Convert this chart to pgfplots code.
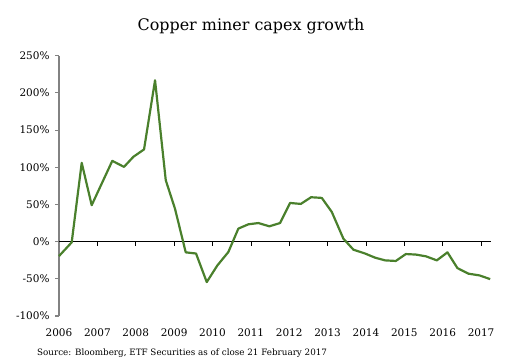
\documentclass[border=0pt]{standalone}
\usepackage{fontspec}
\setmainfont{DejaVu Serif}
\usepackage{pgfplots}
\pgfplotsset{compat=1.18}
\definecolor{linegreen}{RGB}{74,128,44}
\definecolor{axgray}{RGB}{130,130,130}
\begin{document}
\begin{tikzpicture}
\useasboundingbox (-59bp,-48bp) rectangle (448bp,316bp);
\begin{axis}[
  at={(0,0)}, anchor=south west,
  scale only axis,
  width=431.7bp, height=260.3bp,
  xmin=2006, xmax=2017.25,
  ymin=-100, ymax=250,
  axis y line*=left,
  axis x line*=bottom,
  x axis line style={draw=none},
  y axis line style={axgray, line width=1.1pt},
  xtick={2006,2007,...,2017},
  xticklabels={2006,2007,2008,2009,2010,2011,2012,2013,2014,2015,2016,2017},
  xtick style={draw=none},
  xticklabel style={yshift=-5bp, font=\fontsize{10.5}{12}\selectfont},
  ytick={-100,-50,0,50,100,150,200,250},
  yticklabels={-100\%,-50\%,0\%,50\%,100\%,150\%,200\%,250\%},
  yticklabel style={font=\fontsize{10.5}{12}\selectfont, xshift=-2bp},
  ytick style={axgray, line width=1.1pt},
  tick align=outside,
  major tick length=4bp,
  clip=false,
]
% zero line with year ticks
\addplot[black, line width=0.7pt, no marks] coordinates {(2006,0) (2017.25,0)};
\addplot[black, line width=0.7pt, ycomb, no marks] coordinates {
 (2007,-6) (2008,-6) (2009,-6) (2010,-6) (2011,-6) (2012,-6) (2013,-6) (2014,-6) (2015,-6) (2016,-6) (2017,-6)};
\addplot[linegreen, line width=2.2pt, no marks, line join=round] coordinates {
(2006.000,-19.4)
(2006.331,-1.0)
(2006.592,106.0)
(2006.852,49.0)
(2007.113,78.0)
(2007.389,108.6)
(2007.694,100.5)
(2007.937,114.0)
(2008.216,124.0)
(2008.503,217.0)
(2008.782,82.6)
(2009.024,44.0)
(2009.303,-14.4)
(2009.571,-16.0)
(2009.850,-54.4)
(2010.127,-32.0)
(2010.413,-14.0)
(2010.674,17.5)
(2010.935,23.3)
(2011.196,25.0)
(2011.482,20.6)
(2011.761,25.0)
(2012.022,52.0)
(2012.301,50.7)
(2012.569,59.7)
(2012.848,58.8)
(2013.109,39.9)
(2013.411,4.0)
(2013.672,-10.8)
(2013.977,-16.0)
(2014.238,-21.6)
(2014.499,-25.2)
(2014.777,-26.0)
(2015.038,-16.7)
(2015.299,-17.4)
(2015.567,-19.8)
(2015.846,-25.2)
(2016.123,-14.4)
(2016.383,-35.6)
(2016.670,-43.1)
(2016.957,-45.4)
(2017.236,-50.4)
};
\end{axis}
\node[anchor=base, font=\fontsize{16}{18}\selectfont] at (192bp,285bp) {Copper miner capex growth};
\node[anchor=base west, font=\fontsize{8.8}{10}\selectfont, inner sep=0pt] at (-22bp,-39bp) {Source: Bloomberg, ETF Securities as of close 21 February 2017};
\end{tikzpicture}
\end{document}
